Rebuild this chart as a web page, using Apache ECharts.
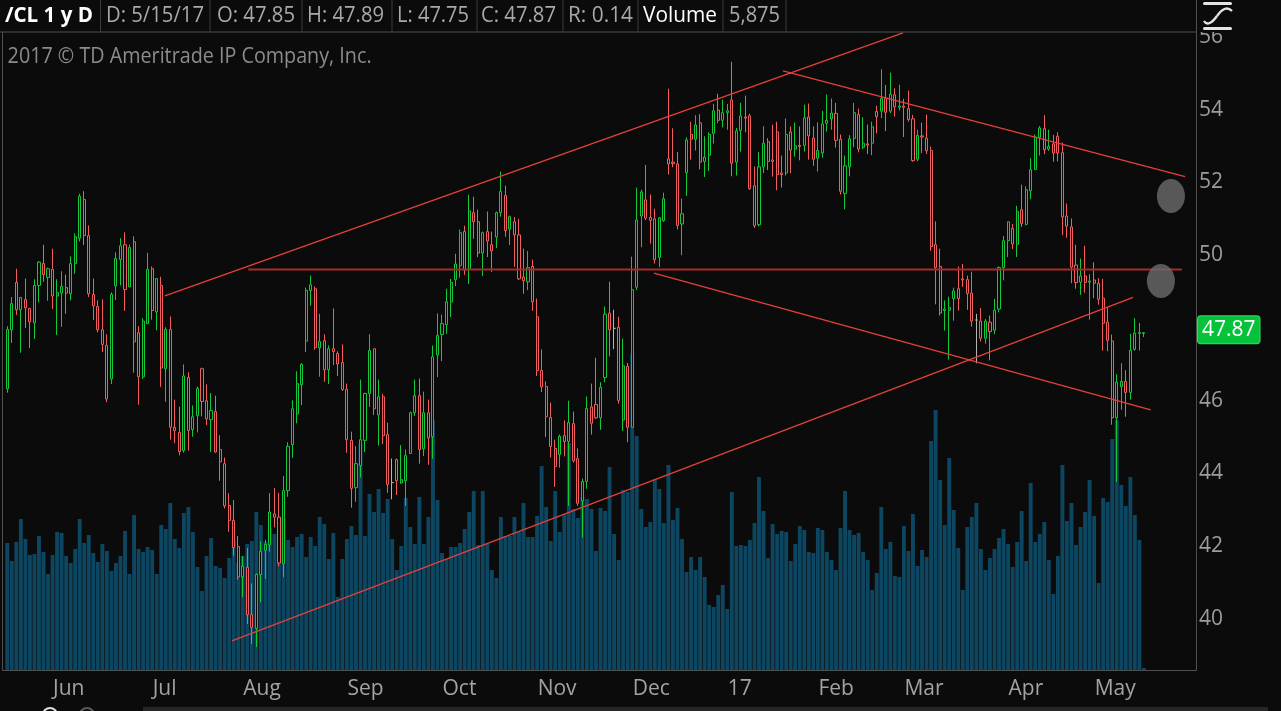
<!doctype html>
<html>

<head>
  <meta charset="utf-8">
  <script src="https://cdn.jsdelivr.net/npm/echarts@6/dist/echarts.min.js"></script>
</head>

<body>
  <style>
    html,
    body {
      width: 100%;
      height: 100%;
      margin: 0;
      background-color: #0b0b0b;
    }

    #main {
      width: 1281px;
      height: 711px;
    }
  </style>
  <div id="main"></div>
  <script>
    // one row per session: open, high, low, close
    var candles = [
      [46.33, 48.05, 46.22, 47.96], [47.95, 48.85, 47.59, 48.67], [49.25, 49.63, 48.36, 48.50], [48.50, 48.84, 47.32, 48.84],
      [48.78, 49.36, 48.00, 48.55], [48.54, 48.55, 47.45, 48.17], [48.14, 49.34, 47.70, 49.17], [49.17, 49.84, 48.71, 49.81],
      [49.77, 50.29, 49.27, 49.47], [49.39, 49.66, 48.75, 49.63], [49.61, 50.18, 48.52, 48.88], [48.88, 49.34, 47.81, 48.97],
      [48.96, 49.56, 48.03, 49.14], [49.11, 49.47, 48.39, 48.96], [48.94, 49.97, 48.76, 49.77], [49.77, 50.60, 49.49, 50.51],
      [50.47, 51.69, 50.38, 51.62], [51.53, 51.76, 50.28, 50.54], [50.54, 50.82, 48.85, 48.94], [48.92, 49.36, 48.22, 48.61],
      [48.59, 48.76, 47.88, 47.95], [47.95, 48.79, 47.34, 47.55], [47.52, 47.83, 45.96, 46.05], [46.60, 48.98, 46.46, 48.92],
      [49.16, 50.08, 48.77, 49.91], [49.88, 50.47, 49.17, 50.26], [50.29, 50.63, 48.47, 49.06], [49.13, 50.29, 49.13, 50.21],
      [50.37, 50.52, 46.77, 47.62], [47.87, 48.05, 45.89, 46.66], [46.66, 48.27, 46.60, 48.19], [48.12, 50.07, 48.12, 49.61],
      [49.63, 49.69, 48.23, 48.48], [48.44, 49.36, 47.94, 49.36], [49.17, 49.41, 46.38, 46.90], [46.88, 48.02, 45.97, 47.96],
      [47.96, 48.32, 44.93, 45.27], [45.27, 46.03, 44.83, 45.18], [45.13, 45.84, 44.50, 44.60], [44.63, 47.00, 44.57, 46.68],
      [46.64, 46.78, 44.63, 45.18], [45.21, 45.87, 45.01, 45.56], [45.59, 46.39, 45.13, 46.34], [46.88, 46.91, 45.57, 45.98],
      [46.00, 46.45, 45.33, 45.50], [45.48, 46.21, 44.59, 45.73], [45.70, 46.14, 44.57, 44.59], [44.66, 45.05, 43.80, 44.32],
      [44.27, 44.44, 43.04, 43.11], [43.12, 43.46, 42.40, 42.71], [42.71, 43.27, 41.74, 41.96], [41.99, 42.28, 41.08, 41.16],
      [41.16, 41.73, 40.60, 41.45], [41.42, 41.95, 39.86, 40.12], [40.12, 40.98, 39.31, 39.77], [39.74, 41.25, 39.23, 41.23],
      [41.22, 42.14, 40.46, 41.86], [41.89, 42.18, 41.10, 42.05], [42.04, 43.46, 41.85, 42.94], [42.89, 43.60, 42.52, 42.80],
      [42.80, 43.47, 41.45, 41.54], [41.52, 43.93, 41.15, 43.53], [43.53, 44.86, 43.36, 44.74], [44.79, 46.01, 44.43, 45.78],
      [45.64, 46.81, 45.38, 46.47], [46.44, 47.03, 45.88, 47.00], [47.64, 49.11, 47.34, 49.03], [49.03, 49.44, 48.61, 49.19],
      [49.08, 49.14, 47.40, 47.46], [47.45, 48.39, 46.66, 47.63], [47.65, 47.83, 46.52, 46.85], [46.85, 47.52, 46.46, 47.43],
      [47.43, 48.54, 46.98, 47.35], [47.30, 47.36, 46.68, 47.01], [47.05, 47.55, 46.27, 46.31], [46.31, 46.47, 44.57, 44.93],
      [44.91, 45.15, 43.06, 43.59], [43.61, 44.75, 43.22, 44.27], [44.22, 46.58, 43.89, 44.93], [44.91, 46.22, 44.59, 46.20],
      [46.20, 47.83, 45.83, 47.38], [47.43, 47.43, 45.61, 45.78], [45.61, 46.58, 44.77, 46.11], [46.11, 46.19, 44.81, 45.04],
      [45.07, 45.40, 43.47, 43.70], [43.75, 44.41, 43.29, 43.75], [44.38, 44.41, 43.41, 43.80], [43.74, 44.78, 43.72, 43.83],
      [43.80, 44.66, 43.11, 44.49], [44.55, 45.70, 44.55, 45.67], [45.67, 46.58, 45.58, 46.14], [46.14, 46.61, 44.27, 44.66],
      [44.68, 46.25, 44.48, 45.67], [45.67, 46.03, 44.24, 44.98], [45.01, 47.52, 44.40, 47.21], [47.26, 48.40, 46.65, 47.79],
      [47.82, 48.37, 47.09, 48.12], [48.09, 49.08, 47.84, 48.72], [48.72, 49.35, 48.30, 49.25], [49.33, 50.04, 49.15, 49.76],
      [49.71, 50.71, 49.38, 50.62], [50.65, 50.81, 49.46, 49.60], [49.62, 51.66, 49.21, 51.22], [51.17, 51.61, 50.45, 50.92],
      [50.92, 51.25, 49.95, 50.06], [50.06, 50.65, 49.43, 50.62], [50.65, 51.20, 49.95, 50.39], [50.29, 50.65, 49.54, 50.12],
      [50.50, 51.20, 50.20, 51.17], [51.17, 52.30, 51.06, 51.75], [51.64, 51.91, 50.51, 50.68], [50.72, 51.09, 50.28, 51.06],
      [50.92, 51.05, 49.68, 50.56], [50.56, 51.00, 49.32, 49.35], [49.40, 50.18, 48.94, 49.30], [49.27, 50.12, 49.04, 49.66],
      [49.69, 49.88, 48.47, 48.72], [48.31, 48.81, 46.68, 46.83], [46.83, 47.41, 46.24, 46.38], [46.39, 46.53, 45.00, 45.56],
      [45.54, 45.95, 44.44, 44.74], [44.69, 44.93, 43.63, 44.19], [44.52, 45.07, 44.16, 45.02], [45.04, 45.46, 44.47, 44.88],
      [44.88, 46.00, 43.11, 45.40], [45.37, 45.70, 44.30, 44.35], [44.41, 44.69, 43.11, 43.18], [43.25, 43.86, 42.24, 43.78],
      [43.78, 46.12, 43.58, 45.79], [45.83, 46.47, 45.07, 45.38], [45.90, 47.18, 45.50, 45.53], [45.53, 46.51, 45.20, 46.37],
      [46.64, 48.59, 46.51, 48.38], [48.41, 49.27, 47.22, 47.95], [47.99, 48.50, 47.42, 47.99], [48.02, 48.31, 45.92, 46.01],
      [45.47, 47.71, 45.17, 46.96], [46.94, 47.04, 44.86, 45.27], [45.27, 49.96, 45.27, 49.05], [49.12, 51.86, 49.04, 50.97],
      [51.08, 51.80, 50.22, 51.74], [51.52, 52.48, 50.97, 51.02], [51.04, 51.67, 50.32, 50.96], [51.00, 51.28, 49.77, 49.88],
      [49.94, 51.05, 49.67, 51.03], [50.95, 51.72, 50.92, 51.55], [52.65, 54.58, 52.22, 52.51], [52.56, 53.49, 52.42, 52.52],
      [52.51, 52.84, 50.71, 50.82], [50.86, 51.56, 50.00, 51.14], [52.27, 53.24, 51.63, 53.17], [53.32, 53.67, 52.63, 53.19],
      [53.19, 53.85, 52.88, 53.58], [53.64, 53.88, 52.36, 52.56], [52.58, 53.27, 52.15, 52.70], [52.75, 53.38, 52.31, 53.32],
      [53.35, 54.16, 53.07, 53.97], [53.99, 54.44, 53.63, 53.71], [53.71, 54.28, 53.51, 53.92], [53.92, 54.16, 53.45, 53.97],
      [54.27, 55.32, 52.17, 52.53], [52.56, 53.50, 52.19, 53.42], [53.43, 54.19, 52.85, 53.83], [53.80, 54.39, 53.38, 53.77],
      [53.83, 53.89, 51.80, 51.83], [51.91, 52.44, 50.75, 50.81], [50.84, 52.84, 50.79, 52.43], [52.43, 53.55, 52.26, 53.08],
      [53.12, 53.22, 52.34, 52.58], [52.62, 53.59, 52.16, 52.58], [53.39, 53.67, 51.79, 52.22], [52.26, 52.74, 51.86, 52.22],
      [52.26, 53.76, 52.19, 53.32], [53.39, 53.54, 52.26, 52.89], [52.92, 53.65, 52.71, 53.01], [53.02, 53.54, 52.61, 52.99],
      [53.02, 54.14, 52.85, 53.78], [53.80, 54.17, 52.63, 53.28], [53.22, 53.54, 52.46, 52.64], [52.67, 53.65, 52.30, 52.88],
      [52.81, 53.97, 52.68, 53.61], [53.63, 54.42, 53.40, 53.71], [53.75, 54.31, 53.45, 53.91], [53.90, 54.19, 52.96, 53.16],
      [53.19, 53.32, 51.67, 51.76], [51.70, 52.74, 51.26, 52.46], [52.43, 53.30, 52.17, 53.20], [53.21, 54.19, 52.97, 53.92],
      [53.87, 54.03, 52.83, 52.92], [52.97, 53.79, 52.92, 53.08], [53.06, 53.59, 52.78, 53.03], [53.08, 53.67, 52.75, 53.53],
      [53.95, 54.11, 53.35, 53.81], [53.96, 55.11, 53.77, 54.31], [54.31, 54.68, 53.41, 53.93], [53.96, 55.02, 53.91, 54.43],
      [54.41, 54.59, 53.81, 54.08], [54.07, 54.69, 53.98, 54.10], [54.10, 54.30, 53.25, 54.07], [54.03, 54.53, 53.67, 53.73],
      [53.75, 53.86, 52.57, 52.60], [52.64, 53.45, 52.58, 53.29], [53.28, 53.65, 52.81, 53.25], [53.22, 53.87, 52.78, 52.87],
      [52.88, 52.99, 50.12, 50.24], [50.29, 50.93, 48.65, 49.66], [49.69, 50.18, 48.34, 48.41], [48.48, 48.76, 47.93, 48.52],
      [48.49, 48.86, 47.13, 48.56], [48.81, 49.11, 48.20, 49.02], [49.08, 49.69, 48.48, 48.81], [49.35, 49.76, 49.13, 49.32],
      [49.33, 49.44, 48.50, 48.95], [48.96, 49.55, 48.04, 48.19], [48.22, 48.39, 47.03, 48.22], [48.19, 48.55, 47.63, 47.72],
      [47.72, 48.25, 47.57, 48.19], [48.16, 48.34, 47.11, 47.90], [47.94, 48.80, 47.83, 48.49], [48.52, 49.69, 48.43, 49.66],
      [49.66, 50.53, 49.31, 50.40], [50.40, 50.92, 49.95, 50.92], [50.74, 50.86, 50.17, 50.31], [50.30, 51.36, 49.95, 51.20],
      [51.25, 51.94, 50.78, 50.87], [50.85, 51.89, 50.82, 51.80], [51.77, 52.67, 51.54, 52.35], [52.36, 53.32, 52.34, 53.25],
      [53.24, 53.55, 52.74, 53.50], [53.48, 53.85, 52.78, 52.90], [52.92, 53.45, 52.87, 52.99], [53.06, 53.31, 52.57, 52.81],
      [53.27, 53.38, 52.58, 52.81], [52.82, 53.10, 50.55, 51.05], [51.08, 51.42, 50.48, 50.80], [50.78, 51.01, 49.23, 49.67],
      [49.73, 50.29, 49.08, 49.25], [49.26, 49.91, 48.91, 49.43], [49.43, 50.26, 48.97, 49.25], [49.26, 49.48, 48.23, 49.29],
      [49.32, 49.81, 48.82, 49.23], [49.23, 49.37, 48.64, 48.79], [48.82, 49.35, 47.38, 48.13], [48.16, 48.58, 47.36, 47.66],
      [47.64, 47.82, 45.34, 45.53], [45.53, 46.73, 43.77, 46.51], [46.39, 47.03, 45.75, 46.53], [46.53, 46.84, 45.56, 46.23],
      [46.23, 47.84, 46.03, 47.39], [47.41, 48.27, 47.38, 47.86], [47.85, 48.14, 47.38, 47.88], [47.85, 47.89, 47.75, 47.87]
    ];

    // volume per session, in bar-height units of the lower panel
    var volume = [
      127, 109, 128, 151, 131, 115, 116, 134, 118, 96, 115, 138, 137, 114, 107, 121, 151, 127, 135, 117,
      108, 126, 119, 99, 107, 114, 139, 96, 155, 121, 118, 123, 120, 96, 145, 141, 167, 131, 122, 157,
      163, 138, 103, 79, 114, 132, 104, 102, 92, 112, 130, 107, 114, 126, 129, 158, 145, 128, 142, 136,
      150, 152, 130, 123, 133, 136, 113, 133, 124, 153, 146, 111, 137, 73, 111, 131, 144, 135, 226, 134,
      176, 158, 181, 157, 171, 131, 100, 124, 172, 143, 126, 173, 126, 153, 250, 170, 117, 111, 123, 123,
      127, 141, 158, 179, 125, 179, 126, 100, 92, 153, 134, 134, 153, 138, 167, 133, 133, 154, 204, 163,
      129, 179, 138, 156, 227, 161, 152, 173, 171, 161, 119, 162, 159, 203, 136, 110, 180, 178, 316, 234,
      161, 143, 148, 191, 181, 147, 205, 150, 162, 131, 98, 113, 100, 113, 93, 65, 63, 75, 85, 61,
      178, 124, 125, 124, 130, 147, 193, 159, 112, 146, 136, 139, 138, 109, 126, 144, 140, 118, 117, 142,
      140, 118, 110, 100, 142, 179, 140, 135, 137, 118, 110, 80, 97, 163, 121, 128, 94, 93, 144, 119,
      156, 104, 120, 113, 229, 260, 190, 145, 212, 160, 122, 80, 143, 153, 167, 121, 100, 112, 121, 132,
      141, 126, 103, 128, 159, 109, 187, 128, 136, 148, 110, 76, 114, 205, 149, 167, 125, 143, 158, 190,
      154, 87, 172, 168, 231, 250, 185, 164, 193, 155, 130, 2
    ];

    var holidays = ['2016-05-30', '2016-07-04', '2016-09-05', '2016-11-24', '2016-12-26',
      '2017-01-02', '2017-01-16', '2017-02-20', '2017-04-14'];
    var monthNames = ['17', 'Feb', 'Mar', 'Apr', 'May', 'Jun', 'Jul', 'Aug', 'Sep', 'Oct', 'Nov', 'Dec'];
    var emptySlots = 11;

    // drawn studies: [bar index, price] end points
    var trendLines = [
      [[34.8, 48.88], [197.8, 56.11]],
      [[53.2, 49.61], [259.4, 49.61]],
      [[171.3, 55.07], [260.1, 52.16]],
      [[142.8, 49.51], [252.5, 45.75]],
      [[49.6, 39.40], [248.6, 48.84]]
    ];
    var markers = [[256.96, 51.63], [254.75, 49.29]];
    var lastPrice = 47.87;

    var headerCells = [
      ['/CL 1 y D', 5, 88, '#ffffff', 'bold'],
      ['D: 5/15/17', 106, 98, '#a9a9a9', 'normal'],
      ['O: 47.85', 217, 78, '#a9a9a9', 'normal'],
      ['H: 47.89', 307, 77, '#a9a9a9', 'normal'],
      ['L: 47.75', 397, 72, '#a9a9a9', 'normal'],
      ['C: 47.87', 481, 75, '#a9a9a9', 'normal'],
      ['R: 0.14', 568, 65, '#a9a9a9', 'normal'],
      ['Volume', 643, 74, '#ffffff', 'normal'],
      ['5,875', 729, 51, '#a9a9a9', 'normal']
    ];
    var headerDividers = [100.5, 210, 302, 392, 477, 563, 638, 723, 786];

    var BG = '#0b0b0b';
    var GRID_LEFT = 5, GRID_W = 1191, TOP = 32;

    window.onload = function () {
      initChart();
    }

    function buildDates() {
      var dates = [];
      var d = new Date(Date.UTC(2016, 4, 16));
      while (dates.length < candles.length + emptySlots) {
        var s = d.toISOString().slice(0, 10);
        var wd = d.getUTCDay();
        if (wd !== 0 && wd !== 6 && holidays.indexOf(s) < 0) dates.push(s);
        d.setUTCDate(d.getUTCDate() + 1);
      }
      return dates;
    }

    var measure = document.createElement('canvas').getContext('2d');
    function fitText(text, x, y, width, color, weight) {
      var font = weight + ' 21px "Open Sans"';
      measure.font = font;
      var sx = width / measure.measureText(text).width;
      return {
        type: 'text', x: x, y: y, scaleX: sx, z: 101,
        style: { text: text, font: font, fill: color, verticalAlign: 'middle' }
      };
    }

    function initChart() {
      var chart = echarts.init(document.getElementById('main'));
      var dates = buildDates();

      var candleData = candles.map(function (r) {
        var item = { value: [r[0], r[3], r[2], r[1]] };
        if (r[0] === r[3]) {
          item.itemStyle = { color: BG, color0: BG, borderColor: '#b4b4b4', borderColor0: '#b4b4b4' };
        }
        return item;
      });

      var lineSeries = trendLines.map(function (l, i) {
        var flat = i === 1;
        return {
          type: 'line', xAxisIndex: 2, yAxisIndex: 0,
          data: l, symbol: 'none', silent: true, z: 4,
          lineStyle: { color: flat ? '#a82a2a' : '#e5403c', width: flat ? 2 : 1.3 }
        };
      });

      var graphics = [
        { type: 'rect', shape: { x: 0, y: 0, width: 1281, height: TOP }, style: { fill: BG }, z: 100 },
        { type: 'line', shape: { x1: 0, y1: TOP, x2: 1196, y2: TOP }, style: { stroke: '#505050', lineWidth: 1 }, z: 101 },
        { type: 'line', shape: { x1: 1196.5, y1: 0, x2: 1196.5, y2: 670.5 }, style: { stroke: '#505050', lineWidth: 1 }, z: 101 },
        { type: 'line', shape: { x1: 2.5, y1: TOP, x2: 2.5, y2: 670.5 }, style: { stroke: '#505050', lineWidth: 1 }, z: 101 },
        { type: 'line', shape: { x1: 2.5, y1: 670.5, x2: 1196.5, y2: 670.5 }, style: { stroke: '#505050', lineWidth: 1 }, z: 101 },
        // draw-tool icon top right
        { type: 'rect', shape: { x: 1203, y: 2, width: 29, height: 3, r: 1.5 }, style: { fill: '#e4e4e4' }, z: 102 },
        { type: 'rect', shape: { x: 1203, y: 27, width: 29, height: 3, r: 1.5 }, style: { fill: '#e4e4e4' }, z: 102 },
        {
          type: 'bezierCurve', z: 102,
          shape: { x1: 1204, y1: 21, cpx1: 1207, cpy1: 26, cpx2: 1212, cpy2: 23, x2: 1217, y2: 16 },
          style: { stroke: '#e4e4e4', lineWidth: 2.4, fill: null }
        },
        {
          type: 'bezierCurve', z: 102,
          shape: { x1: 1217, y1: 16, cpx1: 1222, cpy1: 9, cpx2: 1227, cpy2: 6, x2: 1232, y2: 11 },
          style: { stroke: '#e4e4e4', lineWidth: 2.4, fill: null }
        },
        // bottom strip
        { type: 'rect', shape: { x: 143, y: 707, width: 1125, height: 4 }, style: { fill: '#262626' }, z: 101 },
        { type: 'circle', shape: { cx: 50, cy: 715, r: 7 }, style: { stroke: '#dddddd', lineWidth: 2, fill: null }, z: 101 },
        { type: 'circle', shape: { cx: 87, cy: 715, r: 7 }, style: { stroke: '#5a5a5a', lineWidth: 2, fill: null }, z: 101 },
        fitText('2017 \u00a9 TD Ameritrade IP Company, Inc.', 7.6, 57, 364, '#8c8c8c', 'normal')
      ];
      headerDividers.forEach(function (x) {
        graphics.push({ type: 'line', shape: { x1: x, y1: 0, x2: x, y2: TOP }, style: { stroke: '#3c3c3c', lineWidth: 1 }, z: 101 });
      });
      headerCells.forEach(function (c) {
        graphics.push(fitText(c[0], c[1], 16, c[2], c[3], c[4]));
      });

      var option = {
        backgroundColor: BG,
        animation: false,
        grid: [
          { left: GRID_LEFT, width: GRID_W, top: TOP, height: 659.75 },
          { left: GRID_LEFT, width: GRID_W, top: TOP, height: 638 },
          // month labels sit a little left of and below the bars
          { left: GRID_LEFT - 4, width: GRID_W, top: TOP, height: 640 }
        ],
        xAxis: [
          { type: 'category', gridIndex: 0, data: dates, show: false },
          { type: 'category', gridIndex: 1, data: dates, show: false },
          { type: 'value', gridIndex: 0, min: -0.5, max: dates.length - 0.5, show: false },
          {
            type: 'category', gridIndex: 2, data: dates,
            axisLine: { show: false }, axisTick: { show: false }, splitLine: { show: false },
            axisLabel: {
              color: '#a3a3a3', fontSize: 21, fontFamily: 'Open Sans', align: 'left', margin: 7,
              interval: function (i) {
                return i > 0 && dates[i].slice(0, 7) !== dates[i - 1].slice(0, 7);
              },
              formatter: function (v) {
                return monthNames[(+v.slice(5, 7)) - 1];
              }
            }
          }
        ],
        yAxis: [
          {
            type: 'value', gridIndex: 0, position: 'right', min: 38, max: 56.137, interval: 2,
            axisLine: { show: false }, axisTick: { show: false }, splitLine: { show: false },
            axisLabel: {
              color: '#9d9d9d', fontSize: 21, fontFamily: 'Open Sans', margin: 3,
              formatter: function (v) {
                return (v > 39 && Math.abs(v - Math.round(v)) < 1e-6) ? String(v) : '';
              }
            }
          },
          { type: 'value', gridIndex: 1, min: 0, max: 638, show: false },
          { type: 'value', gridIndex: 2, show: false }
        ],
        series: [
          {
            type: 'bar', xAxisIndex: 1, yAxisIndex: 1, data: volume, silent: true, z: 1,
            barCategoryGap: '14%', itemStyle: { color: '#0c4661' }
          },
          {
            type: 'candlestick', xAxisIndex: 0, yAxisIndex: 0, data: candleData, z: 3,
            barWidth: 2.6,
            itemStyle: {
              color: BG, color0: BG,
              borderColor: '#12c93a', borderColor0: '#f25d5d', borderWidth: 1
            },
            markLine: {
              silent: true, symbol: 'none',
              lineStyle: { width: 1, color: 'rgba(0,0,0,0)', type: 'solid' },
              data: [{ yAxis: lastPrice }],
              label: {
                show: true, position: 'end', distance: 2, formatter: lastPrice.toFixed(2),
                color: '#ffffff', fontSize: 21, fontFamily: 'Open Sans', lineHeight: 21,
                backgroundColor: '#06c23a', borderColor: '#35dd5e', borderWidth: 1, borderRadius: 3,
                padding: [3, 4, 3, 4], offset: [0, -3]
              }
            }
          },
          {
            type: 'scatter', xAxisIndex: 2, yAxisIndex: 0, data: markers, silent: true, z: 5,
            symbol: 'circle', symbolSize: [28, 34], itemStyle: { color: '#6b6b6b' }
          }
        ].concat(lineSeries),
        graphic: graphics
      };

      chart.setOption(option);
    }
  </script>
</body>

</html>
